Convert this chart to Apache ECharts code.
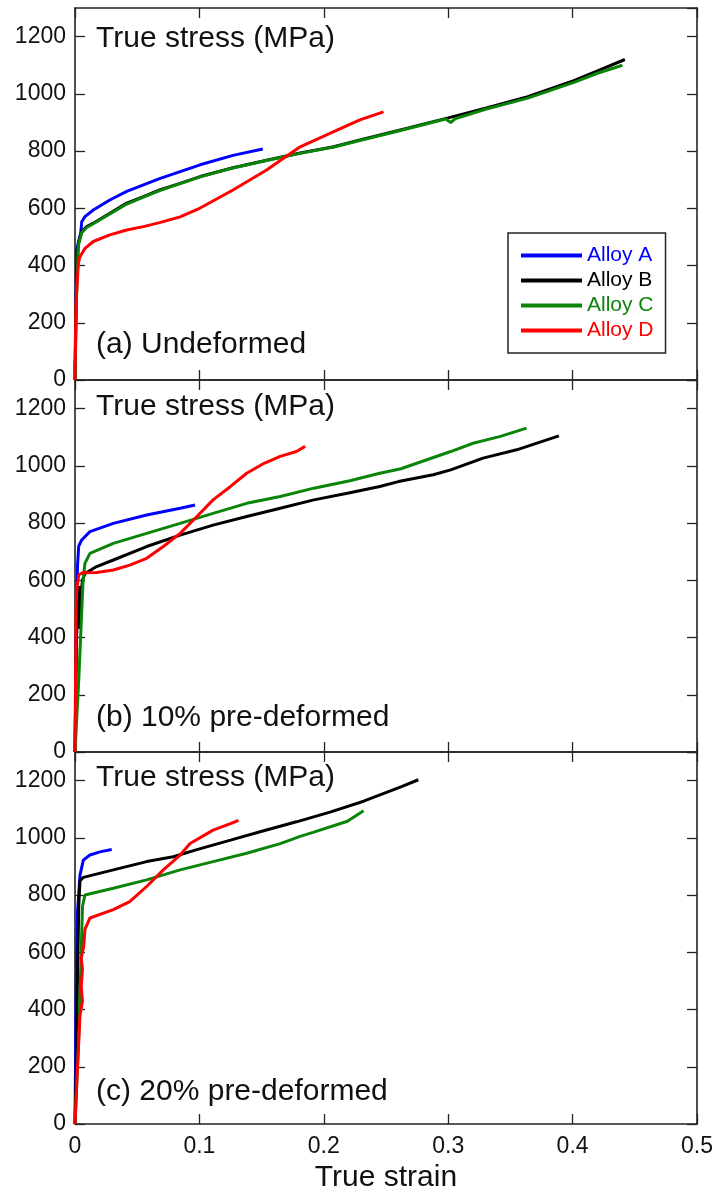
<!DOCTYPE html>
<html>
<head>
<meta charset="utf-8">
<script src="https://cdn.jsdelivr.net/npm/echarts@6/dist/echarts.min.js"></script>
<style>
  html, body { margin: 0; padding: 0; background: #fff; }
  #chart { width: 719px; height: 1194px; }
</style>
</head>
<body>
<div id="chart"></div>
<script>
// names and labels
var alloyNames = ['Alloy A', 'Alloy B', 'Alloy C', 'Alloy D'];
var panelLabels = ['(a) Undeformed', '(b) 10% pre-deformed', '(c) 20% pre-deformed'];
var yTitle = 'True stress (MPa)';
var xTitle = 'True strain';
var strainRange = [0, 0.5, 0.1];   // min, max, step
var stressRange = [0, 1300, 200];

// (a) undeformed  [true strain, true stress MPa]
var a_alloyA = [[0,0],[0.0005,150],[0.001,300],[0.0013,455],[0.0046,513],[0.0054,553],[0.008,571],[0.0147,594],[0.028,629],[0.0416,659],[0.055,682],[0.068,704],[0.0845,728],[0.1006,752],[0.127,785],[0.151,807]];
var a_alloyB = [[0,0],[0.0005,200],[0.001,300],[0.0015,385],[0.0027,478],[0.0054,519],[0.0094,536],[0.0147,548],[0.028,583],[0.0416,618],[0.055,641],[0.068,664],[0.0845,687],[0.1006,711],[0.127,742],[0.154,768],[0.181,793],[0.208,815],[0.229,839],[0.26,872],[0.3,916],[0.33,950],[0.364,990],[0.401,1046],[0.42,1080],[0.442,1120]];
var a_alloyC = [[0,0],[0.001,250],[0.002,400],[0.0027,470],[0.0054,515],[0.0094,533],[0.0147,546],[0.028,580],[0.0416,615],[0.055,639],[0.068,662],[0.0845,686],[0.1006,710],[0.127,741],[0.154,767],[0.181,792],[0.208,814],[0.229,837],[0.26,870],[0.298,912],[0.302,900],[0.306,914],[0.33,946],[0.364,985],[0.401,1040],[0.42,1072],[0.44,1100]];
var a_alloyD = [[0,0],[0.0008,268],[0.0027,408],[0.004,431],[0.008,460],[0.0147,484],[0.028,507],[0.0416,524],[0.055,536],[0.068,550],[0.0845,570],[0.1006,601],[0.127,664],[0.154,734],[0.181,815],[0.208,868],[0.229,909],[0.248,937]];

// (b) 10% pre-deformed
var b_alloyA = [[0,0],[0.001,400],[0.002,650],[0.003,720],[0.0054,741],[0.012,770],[0.0308,799],[0.0576,828],[0.0845,852],[0.0965,863]];
var b_alloyB = [[0,0],[0.001,350],[0.002,520],[0.003,580],[0.004,430],[0.005,560],[0.006,600],[0.008,624],[0.0174,648],[0.0308,671],[0.0576,718],[0.0845,758],[0.111,793],[0.138,823],[0.165,852],[0.192,881],[0.219,904],[0.245,928],[0.26,945],[0.288,969],[0.302,986],[0.328,1027],[0.355,1056],[0.389,1105]];
var b_alloyC = [[0,0],[0.003,250],[0.005,450],[0.0065,600],[0.008,659],[0.012,694],[0.0308,729],[0.0576,764],[0.0845,799],[0.111,834],[0.138,869],[0.165,893],[0.192,922],[0.221,948],[0.245,974],[0.262,990],[0.302,1050],[0.32,1079],[0.342,1103],[0.363,1132]];
var b_alloyD = [[0,0],[0.0005,300],[0.001,520],[0.0015,570],[0.003,620],[0.006,626],[0.0174,627],[0.0308,636],[0.044,653],[0.0576,677],[0.071,718],[0.0845,764],[0.098,823],[0.111,881],[0.125,928],[0.138,974],[0.152,1009],[0.165,1033],[0.178,1050],[0.185,1068]];

// (c) 20% pre-deformed
var c_alloyA = [[0,0],[0.001,500],[0.002,740],[0.004,870],[0.0067,922],[0.012,940],[0.02,951],[0.0295,959]];
var c_alloyB = [[0,0],[0.001,200],[0.002,500],[0.003,760],[0.004,850],[0.0067,862],[0.0308,888],[0.0576,917],[0.079,934],[0.098,959],[0.125,992],[0.151,1024],[0.178,1056],[0.205,1090],[0.232,1128],[0.262,1178],[0.276,1203]];
var c_alloyC = [[0,0],[0.003,300],[0.005,600],[0.006,760],[0.008,800],[0.0308,824],[0.0576,853],[0.0845,888],[0.111,917],[0.138,946],[0.165,980],[0.181,1005],[0.192,1020],[0.219,1058],[0.232,1095]];
var c_alloyD = [[0,0],[0.002,200],[0.0027,260],[0.004,380],[0.006,430],[0.005,480],[0.006,540],[0.005,580],[0.007,620],[0.008,680],[0.012,720],[0.0308,749],[0.044,777],[0.0576,830],[0.071,888],[0.0845,940],[0.0925,980],[0.111,1027],[0.125,1050],[0.1314,1061]];

var panels = [
  [a_alloyA, a_alloyB, a_alloyC, a_alloyD],
  [b_alloyA, b_alloyB, b_alloyC, b_alloyD],
  [c_alloyA, c_alloyB, c_alloyC, c_alloyD]
];

var lineColors = ['#0000ff', '#000000', '#0a850a', '#ff0000'];
var font = 'Liberation Sans, Arial, sans-serif';
var frame = '#222';

var chart = echarts.init(document.getElementById('chart'));

var gridTops = [8, 380, 752];
var grids = [], xAxes = [], yAxes = [], series = [], titles = [];
var titleTops = [[24, 330], [392, 703], [763, 1077]];

gridTops.forEach(function (top, i) {
  grids.push({ left: 75, right: 22, top: top, height: 372, containLabel: false, outerBoundsMode: 'none' });
  var tick = { show: true, inside: true, length: 10, lineStyle: { color: frame, width: 1.3 } };
  var line = { show: true, onZero: false, lineStyle: { color: frame, width: 1.6 } };
  var last = i === gridTops.length - 1;
  xAxes.push({
    gridIndex: i, type: 'value', position: 'bottom',
    min: strainRange[0], max: strainRange[1], interval: strainRange[2],
    axisLine: line, axisTick: tick, splitLine: { show: false },
    axisLabel: { show: last, fontSize: 23, color: '#111', fontFamily: font, margin: 11 },
    name: last ? xTitle : '', nameLocation: 'middle', nameGap: 39,
    nameTextStyle: { fontSize: 30, color: '#111', fontFamily: font }
  });
  xAxes.push({
    gridIndex: i, type: 'value', position: 'top',
    min: strainRange[0], max: strainRange[1], interval: strainRange[2],
    axisLine: line, axisTick: tick, splitLine: { show: false }, axisLabel: { show: false }
  });
  yAxes.push({
    gridIndex: i, type: 'value', position: 'left',
    min: stressRange[0], max: stressRange[1], interval: stressRange[2],
    axisLine: line, axisTick: tick, splitLine: { show: false },
    axisLabel: {
      fontSize: 23, color: '#111', fontFamily: font, margin: 9, showMaxLabel: false,
      formatter: function (v) { return v % 200 === 0 ? String(v) : ''; }
    }
  });
  yAxes.push({
    gridIndex: i, type: 'value', position: 'right',
    min: stressRange[0], max: stressRange[1], interval: stressRange[2],
    axisLine: line, axisTick: tick, splitLine: { show: false }, axisLabel: { show: false }
  });

  panels[i].forEach(function (d, k) {
    series.push({
      name: alloyNames[k], type: 'line', data: d,
      xAxisIndex: i * 2, yAxisIndex: i * 2,
      symbol: 'none', showSymbol: false,
      lineStyle: { color: lineColors[k], width: 3 },
      itemStyle: { color: lineColors[k] },
      emphasis: { disabled: true }, animation: false
    });
  });

  titles.push({ text: yTitle, left: 96, top: titleTops[i][0], padding: 0,
    textStyle: { fontSize: 30, fontWeight: 'normal', color: '#111', fontFamily: font } });
  titles.push({ text: panelLabels[i], left: 96, top: titleTops[i][1], padding: 0,
    textStyle: { fontSize: 30, fontWeight: 'normal', color: '#111', fontFamily: font } });
});

var option = {
  backgroundColor: '#fff',
  animation: false,
  title: titles,
  grid: grids,
  xAxis: xAxes,
  yAxis: yAxes,
  legend: {
    orient: 'vertical', left: 508, top: 233,
    padding: [12, 12, 12, 13],
    itemWidth: 61, itemHeight: 4, itemGap: 4, itemTextGap: 6,
    icon: 'rect',
    borderColor: frame, borderWidth: 1.5,
    backgroundColor: '#fff',
    data: alloyNames.map(function (n, k) {
      return { name: n, icon: 'rect', itemStyle: { color: lineColors[k] }, textStyle: { color: lineColors[k] } };
    }),
    textStyle: { fontSize: 21, fontFamily: font, lineHeight: 20, padding: [0, 0, 0, 0] }
  },
  series: series
};

chart.setOption(option);
</script>
</body>
</html>
